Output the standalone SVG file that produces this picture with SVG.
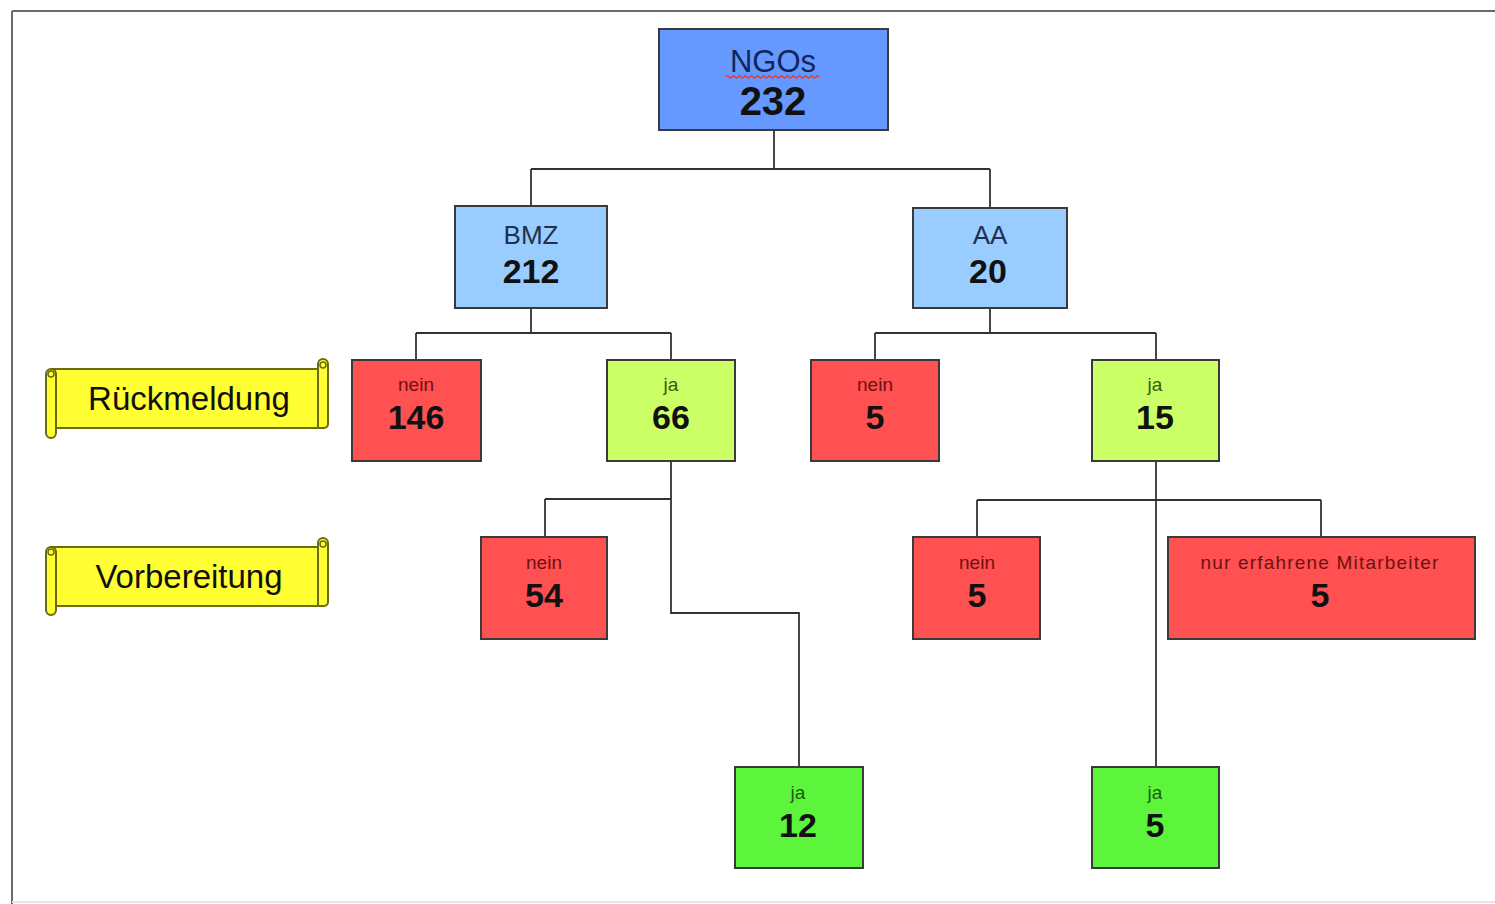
<svg xmlns="http://www.w3.org/2000/svg" width="1495" height="904" viewBox="0 0 1495 904">
<style>
.box{stroke:#3a3a3a;stroke-width:2}
.blue{fill:#6699ff}
.lblue{fill:#99ccff}
.red{fill:#ff5151}
.lime{fill:#ccff66}
.green{fill:#5cf53c}
.t{font-family:"Liberation Sans",Arial,sans-serif;text-anchor:middle}
.num{font-weight:bold;fill:#111}
.lab{font-size:19px}
.conn{fill:none;stroke:#333;stroke-width:1.8}
.scroll{fill:#ffff33;stroke:#6b6b10;stroke-width:2}
</style>
<rect x="0" y="0" width="1495" height="904" fill="#fff"/>
<g id="frame">
<line x1="12" y1="11" x2="1495" y2="11" stroke="#6a6a6a" stroke-width="2"/>
<line x1="12" y1="11" x2="12" y2="904" stroke="#6a6a6a" stroke-width="2"/>
<line x1="12" y1="902" x2="1495" y2="902" stroke="#e6e6e6" stroke-width="2"/>
</g>
<g id="connectors">
<path class="conn" d="M774,130 V169 M531,169 H990 M531,169 V206 M990,169 V208"/>
<path class="conn" d="M531,308 V333 M416,333 H671 M416,333 V360 M671,333 V360"/>
<path class="conn" d="M990,308 V333 M875,333 H1156 M875,333 V360 M1156,333 V360"/>
<path class="conn" d="M671,461 V613 H799 V767 M545,499 H671 M545,499 V537"/>
<path class="conn" d="M1156,461 V767 M977,500 H1321 M977,500 V537 M1321,500 V537"/>
</g>
<g id="scroll-rueckmeldung">
<path class="scroll" d="M52,369 H320 V428 H52 Z"/>
<path class="scroll" d="M318,428 V364 a5,5 0 0 1 10,0 V424 a4,4 0 0 1 -4,4 Z"/>
<circle cx="323" cy="365" r="3" fill="#ffff33" stroke="#6b6b10" stroke-width="1.5"/>
<path class="scroll" d="M46,374 a5,5 0 0 1 10,0 V433 a5,5 0 0 1 -10,0 Z"/>
<circle cx="51" cy="374" r="3" fill="#ffff33" stroke="#6b6b10" stroke-width="1.5"/>
<text class="t" x="189" y="410" font-size="33" fill="#111">Rückmeldung</text>
</g>
<g id="scroll-vorbereitung">
<path class="scroll" d="M52,547 H320 V606 H52 Z"/>
<path class="scroll" d="M318,606 V543 a5,5 0 0 1 10,0 V602 a4,4 0 0 1 -4,4 Z"/>
<circle cx="323" cy="544" r="3" fill="#ffff33" stroke="#6b6b10" stroke-width="1.5"/>
<path class="scroll" d="M46,552 a5,5 0 0 1 10,0 V610 a5,5 0 0 1 -10,0 Z"/>
<circle cx="51" cy="552" r="3" fill="#ffff33" stroke="#6b6b10" stroke-width="1.5"/>
<text class="t" x="189" y="588" font-size="33" fill="#111">Vorbereitung</text>
</g>
<g id="ngos">
<rect class="box blue" x="659" y="29" width="229" height="101"/>
<text class="t" x="773" y="72" font-size="31" fill="#13265a">NGOs</text>
<path d="M726,77 q1.5,-2.2 3,0 t3,0 t3,0 t3,0 t3,0 t3,0 t3,0 t3,0 t3,0 t3,0 t3,0 t3,0 t3,0 t3,0 t3,0 t3,0 t3,0 t3,0 t3,0 t3,0 t3,0 t3,0 t3,0 t3,0 t3,0 t3,0 t3,0 t3,0 t3,0 t3,0 t3,0" fill="none" stroke="#e03030" stroke-width="1.3"/>
<text class="t num" x="773" y="115" font-size="40">232</text>
</g>
<g id="bmz">
<rect class="box lblue" x="455" y="206" width="152" height="102"/>
<text class="t" x="531" y="244" font-size="26" fill="#1f3050">BMZ</text>
<text class="t num" x="531" y="283" font-size="34">212</text>
</g>
<g id="aa">
<rect class="box lblue" x="913" y="208" width="154" height="100"/>
<text class="t" x="990" y="244" font-size="26" fill="#1f3050">AA</text>
<text class="t num" x="988" y="283" font-size="34">20</text>
</g>
<g id="bmz-nein">
<rect class="box red" x="352" y="360" width="129" height="101"/>
<text class="t lab" x="416" y="391" fill="#701010">nein</text>
<text class="t num" x="416" y="429" font-size="34">146</text>
</g>
<g id="bmz-ja">
<rect class="box lime" x="607" y="360" width="128" height="101"/>
<text class="t lab" x="671" y="391" fill="#3a5a10">ja</text>
<text class="t num" x="671" y="429" font-size="34">66</text>
</g>
<g id="aa-nein">
<rect class="box red" x="811" y="360" width="128" height="101"/>
<text class="t lab" x="875" y="391" fill="#701010">nein</text>
<text class="t num" x="875" y="429" font-size="34">5</text>
</g>
<g id="aa-ja">
<rect class="box lime" x="1092" y="360" width="127" height="101"/>
<text class="t lab" x="1155" y="391" fill="#3a5a10">ja</text>
<text class="t num" x="1155" y="429" font-size="34">15</text>
</g>
<g id="bmz-vorb-nein">
<rect class="box red" x="481" y="537" width="126" height="102"/>
<text class="t lab" x="544" y="569" fill="#701010">nein</text>
<text class="t num" x="544" y="607" font-size="34">54</text>
</g>
<g id="aa-vorb-nein">
<rect class="box red" x="913" y="537" width="127" height="102"/>
<text class="t lab" x="977" y="569" fill="#701010">nein</text>
<text class="t num" x="977" y="607" font-size="34">5</text>
</g>
<g id="aa-vorb-erfahren">
<rect class="box red" x="1168" y="537" width="307" height="102"/>
<text class="t lab" x="1320" y="569" fill="#701010" letter-spacing="1.2">nur erfahrene Mitarbeiter</text>
<text class="t num" x="1320" y="607" font-size="34">5</text>
</g>
<g id="bmz-vorb-ja">
<rect class="box green" x="735" y="767" width="128" height="101"/>
<text class="t lab" x="798" y="799" fill="#1f5a10">ja</text>
<text class="t num" x="798" y="837" font-size="34">12</text>
</g>
<g id="aa-vorb-ja">
<rect class="box green" x="1092" y="767" width="127" height="101"/>
<text class="t lab" x="1155" y="799" fill="#1f5a10">ja</text>
<text class="t num" x="1155" y="837" font-size="34">5</text>
</g>
</svg>
